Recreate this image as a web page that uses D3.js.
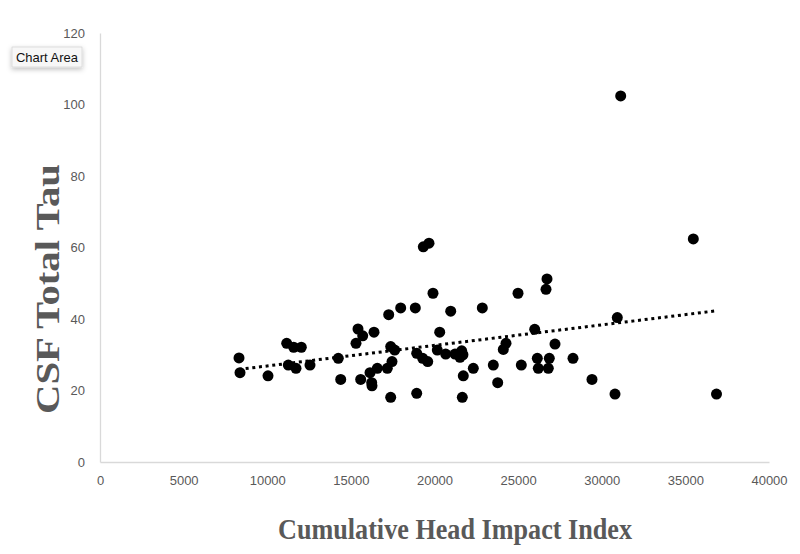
<!DOCTYPE html>
<html>
<head>
<meta charset="utf-8">
<script src="https://cdn.jsdelivr.net/npm/d3@7"></script>
<style>
  html, body { margin: 0; padding: 0; background: #fff; }
  svg { display: block; }
</style>
</head>
<body>
<svg id="chart" width="800" height="554"></svg>
<script>
// ---- Data ----
const impactIndex = [
  8311, 8371, 10045, 11163, 11581, 12036, 11259, 11719, 12556, 14248,
  14392, 15587, 15306, 15426, 15707, 16144, 16245, 16263, 16580, 17178,
  17459, 17381, 17621, 17262, 17979, 18852, 16383, 17381, 18936, 19331,
  19671, 19910, 20969, 22858, 20311, 18936, 19294, 19594, 20167, 20670,
  21226, 21626, 21525, 21700, 21722, 21662, 22320, 23516, 23779, 24114,
  24275, 24993, 25991, 26667, 26726, 27205, 25190, 26147, 26864, 26206,
  26804, 28281, 29417, 30792, 30930, 31133, 35474, 36861
];
const totalTau = [
  29.1, 25.0, 24.1, 33.2, 32.1, 32.1, 27.1, 26.2, 27.1, 29.0,
  23.1, 23.1, 33.2, 37.2, 35.3, 25.0, 22.2, 21.3, 26.2, 26.2,
  28.1, 32.3, 31.3, 41.2, 43.1, 43.1, 36.3, 18.1, 19.2, 60.2,
  61.2, 47.2, 42.2, 43.1, 36.3, 30.4, 29.0, 28.1, 31.3, 30.2,
  30.2, 31.1, 29.3, 30.0, 24.1, 18.1, 26.2, 27.1, 22.2, 31.5,
  33.2, 47.2, 37.1, 48.3, 51.2, 33.0, 27.1, 29.0, 29.0, 26.2,
  26.2, 29.0, 23.1, 19.0, 40.4, 102.4, 62.4, 19.0
];
// Linear trendline endpoints (as drawn in the reference)
const trendX = [8311, 36861];
const trendY = [25.9, 42.3];

const xTicks = [0, 5000, 10000, 15000, 20000, 25000, 30000, 35000, 40000];
const yTicks = [0, 20, 40, 60, 80, 100, 120];

const xTitle = "Cumulative Head Impact Index";
const yTitle = "CSF Total Tau";
const tooltipLabel = "Chart Area";

// ---- Layout ----
const svg = d3.select("#chart");
const plot = { left: 100, right: 769, top: 33, bottom: 462 };

const x = d3.scaleLinear().domain([0, 40000]).range([plot.left, plot.right]);
const y = d3.scaleLinear().domain([0, 120]).range([plot.bottom, plot.top]);

const axisColor = "#d9d9d9";
const labelColor = "#595959";
const tickFont = "'Liberation Sans', Arial, sans-serif";

// X axis
const xAxis = svg.append("g")
  .attr("transform", `translate(0,${plot.bottom})`)
  .call(d3.axisBottom(x).tickValues(xTicks).tickFormat(d3.format("d")).tickSize(0).tickPadding(14));
xAxis.select(".domain").attr("stroke", axisColor).attr("stroke-width", 1.3);
xAxis.selectAll("text")
  .attr("fill", labelColor)
  .style("font-family", tickFont)
  .style("font-size", "13px");

// Y axis
const yAxis = svg.append("g")
  .attr("transform", `translate(${plot.left},0)`)
  .call(d3.axisLeft(y).tickValues(yTicks).tickFormat(d3.format("d")).tickSize(0).tickPadding(15));
yAxis.select(".domain").attr("stroke", axisColor).attr("stroke-width", 1.3);
yAxis.selectAll("text")
  .attr("fill", labelColor)
  .style("font-family", tickFont)
  .style("font-size", "13px");

// Points
const pts = impactIndex.map((v, i) => ({ x: v, y: totalTau[i] }));
svg.append("g")
  .selectAll("circle")
  .data(pts)
  .join("circle")
  .attr("cx", d => x(d.x))
  .attr("cy", d => y(d.y))
  .attr("r", 5.5)
  .attr("fill", "#000");

// Trendline (dotted)
const trend = trendX.map((v, i) => [v, trendY[i]]);
svg.append("path")
  .datum(trend)
  .attr("d", d3.line().x(d => x(d[0])).y(d => y(d[1])))
  .attr("fill", "none")
  .attr("stroke", "#000")
  .attr("stroke-width", 3)
  .attr("stroke-dasharray", "3 3.7");

// Axis titles
svg.append("text")
  .attr("x", 455)
  .attr("y", 539)
  .attr("text-anchor", "middle")
  .attr("fill", labelColor)
  .attr("textLength", 354)
  .attr("lengthAdjust", "spacingAndGlyphs")
  .style("font-family", "'Liberation Serif', 'Times New Roman', serif")
  .style("font-weight", "bold")
  .style("font-size", "30px")
  .text(xTitle);

svg.append("text")
  .attr("transform", "translate(59,289) rotate(-90)")
  .attr("text-anchor", "middle")
  .attr("fill", labelColor)
  .attr("textLength", 250)
  .attr("lengthAdjust", "spacingAndGlyphs")
  .style("font-family", "'Liberation Serif', 'Times New Roman', serif")
  .style("font-weight", "bold")
  .style("font-size", "34px")
  .text(yTitle);

// "Chart Area" tooltip
const defs = svg.append("defs");
const f = defs.append("filter").attr("id", "shadow").attr("x", "-30%").attr("y", "-40%").attr("width", "160%").attr("height", "200%");
f.append("feDropShadow").attr("dx", 0).attr("dy", 2).attr("stdDeviation", 2.5).attr("flood-color", "#000").attr("flood-opacity", 0.25);

const tip = svg.append("g").attr("transform", "translate(12,47)");
tip.append("rect")
  .attr("width", 70).attr("height", 20)
  .attr("fill", "#f7f7f7")
  .attr("stroke", "#d6d6d6")
  .attr("stroke-width", 0.8)
  .attr("filter", "url(#shadow)");
tip.append("text")
  .attr("x", 35).attr("y", 14.5)
  .attr("text-anchor", "middle")
  .attr("fill", "#111")
  .attr("textLength", 62)
  .attr("lengthAdjust", "spacingAndGlyphs")
  .style("font-family", "'Liberation Sans', Arial, sans-serif")
  .style("font-size", "13px")
  .text(tooltipLabel);
</script>
</body>
</html>
